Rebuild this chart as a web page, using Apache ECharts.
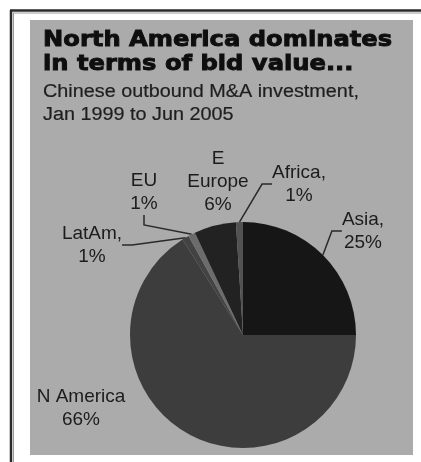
<!DOCTYPE html>
<html>
<head>
<meta charset="utf-8">
<script src="https://cdn.jsdelivr.net/npm/echarts@6/dist/echarts.min.js"></script>
<style>
  html, body { margin: 0; padding: 0; background: #ffffff; }
  #chart { width: 421px; height: 462px; }
</style>
</head>
<body>
<div id="chart"></div>
<script>
// Regions, clockwise from twelve o'clock
const regions = ['Asia,', 'N America', 'LatAm,', 'EU', 'E\nEurope', 'Africa,'];
// Share of bid value, per cent
const shares = [25, 66, 1, 1, 6, 1];
// Slice fills (greyscale print)
const sliceColors = ['#161616', '#3d3d3d', '#434343', '#6c6c6c', '#222222', '#525252'];
// Headline and standfirst
const titleLines = ['North America dominates', 'in terms of bid value...'];
const subtitleLines = ['Chinese outbound M&A investment,', 'Jan 1999 to Jun 2005'];

// Where each label sits, and whether it has a leader line
const labelSpots = [
  { x: 363, y: 231, line: true },
  { x: 81,  y: 408, line: false },
  { x: 92,  y: 245, line: true },
  { x: 144, y: 192, line: true },
  { x: 218, y: 182, line: false },
  { x: 299, y: 184, line: true }
];

const chart = echarts.init(document.getElementById('chart'), null, { renderer: 'canvas' });

const headText = [];
titleLines.forEach((t, i) => {
  headText.push({
    type: 'text', x: 43, y: 40 + i * 24, scaleX: 1.1, z: 10,
    style: {
      text: t, x: 0, y: 0, fill: '#0e0e0e', stroke: '#0e0e0e', lineWidth: 0.9,
      font: 'bold 22px "DejaVu Sans"', textVerticalAlign: 'middle'
    }
  });
});
subtitleLines.forEach((t, i) => {
  headText.push({
    type: 'text', x: 43, y: 92 + i * 23.5, scaleX: 1.1, z: 10,
    style: {
      text: t, x: 0, y: 0, fill: '#1e1e1e', stroke: '#1e1e1e', lineWidth: 0.2,
      font: '18px "Liberation Sans"', textVerticalAlign: 'middle'
    }
  });
});

const option = {
  animation: false,
  backgroundColor: '#ffffff',
  graphic: [
    // cropped frame: top and left rules
    { type: 'line', z: 1, shape: { x1: 10, y1: 10.5, x2: 421, y2: 10.5 }, style: { stroke: '#2a2a2a', lineWidth: 2.5 } },
    { type: 'line', z: 1, shape: { x1: 11, y1: 10, x2: 11, y2: 462 }, style: { stroke: '#2a2a2a', lineWidth: 2.5 } },
    { type: 'line', z: 1, shape: { x1: 13, y1: 13, x2: 421, y2: 13 }, style: { stroke: '#9a9a9a', lineWidth: 1 } },
    { type: 'line', z: 1, shape: { x1: 13.5, y1: 13, x2: 13.5, y2: 462 }, style: { stroke: '#9a9a9a', lineWidth: 1 } },
    // grey panel
    { type: 'rect', z: 0, shape: { x: 30, y: 20, width: 383, height: 435 }, style: { fill: '#ababab' } },
    ...headText
  ],
  series: [{
    type: 'pie',
    center: [243, 335],
    radius: 113,
    startAngle: 90,
    clockwise: true,
    avoidLabelOverlap: false,
    silent: true,
    itemStyle: { borderWidth: 0 },
    label: {
      show: true,
      formatter: '{b}\n{c}%',
      fontFamily: 'Liberation Sans',
      fontSize: 19,
      lineHeight: 23,
      color: '#1c1c1c',
      align: 'center'
    },
    labelLine: {
      show: true,
      length: 10,
      length2: 10,
      lineStyle: { color: '#2a2a2a', width: 1.5 }
    },
    labelLayout: function (params) {
      const s = labelSpots[params.dataIndex];
      return { x: s.x, y: s.y, align: 'center', verticalAlign: 'middle', hideOverlap: false };
    },
    data: regions.map((name, i) => ({
      name: name,
      value: shares[i],
      itemStyle: { color: sliceColors[i] },
      labelLine: { show: labelSpots[i].line }
    }))
  }]
};

chart.setOption(option);
</script>
</body>
</html>
